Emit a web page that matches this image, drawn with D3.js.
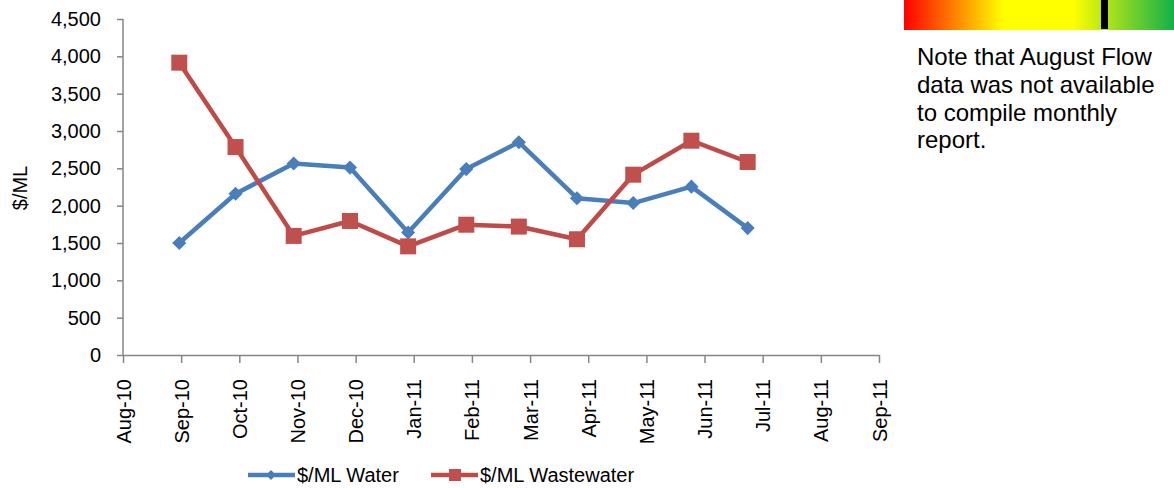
<!DOCTYPE html>
<html>
<head>
<meta charset="utf-8">
<script src="https://cdn.jsdelivr.net/npm/d3@7"></script>
<style>
  body { margin: 0; background: #fff; }
  svg { display: block; font-family: "Liberation Sans", Arial, sans-serif; }
  .axis path, .axis line { stroke: #868686; stroke-width: 1.5; }
  .axis text { fill: #000; font-size: 20px; }
</style>
</head>
<body>
<svg id="chart" width="1174" height="488"></svg>
<script>
// month-end reporting dates
const reportDates = ["2010-08-31", "2010-09-30", "2010-10-31", "2010-11-30", "2010-12-31",
  "2011-01-31", "2011-02-28", "2011-03-31", "2011-04-30", "2011-05-31", "2011-06-30"];

const waterValues = [1500, 2160, 2565, 2510, 1640, 2490, 2850, 2100, 2035, 2255, 1700];
const wastewaterValues = [3915, 2785, 1595, 1795, 1455, 1745, 1720, 1550, 2415, 2870, 2585];

const yTickValues = [0, 500, 1000, 1500, 2000, 2500, 3000, 3500, 4000, 4500];
const xTickLabels = ["Aug-10", "Sep-10", "Oct-10", "Nov-10", "Dec-10", "Jan-11", "Feb-11",
  "Mar-11", "Apr-11", "May-11", "Jun-11", "Jul-11", "Aug-11", "Sep-11"];

const noteLines = ["Note that August Flow", "data was not available", "to compile monthly", "report."];

const svg = d3.select("#chart");
const width = +svg.attr("width");
const height = +svg.attr("height");

const margin = { top: 19, right: 295, bottom: 133, left: 123 };
const innerWidth = width - margin.left - margin.right;
const innerHeight = height - margin.top - margin.bottom;

const g = svg.append("g")
  .attr("transform", `translate(${margin.left},${margin.top})`);

const parseDate = d3.timeParse("%Y-%m-%d");
const dates = reportDates.map(parseDate);

// excel date axis: major unit of 31 days starting 1 Aug 2010
const axisStart = parseDate("2010-08-01");
const tickDates = xTickLabels.map((d, i) => d3.timeDay.offset(axisStart, 31 * i));

const x = d3.scaleTime()
  .domain([axisStart, tickDates[tickDates.length - 1]])
  .range([0, innerWidth]);

const y = d3.scaleLinear()
  .domain([0, 4500])
  .range([innerHeight, 0]);

// y axis
const yAxis = g.append("g")
  .attr("class", "axis")
  .call(d3.axisLeft(y)
    .tickValues(yTickValues)
    .tickSize(6)
    .tickPadding(16)
    .tickFormat(d3.format(",")));

// x axis
const xAxis = g.append("g")
  .attr("class", "axis")
  .attr("transform", `translate(0,${innerHeight})`)
  .call(d3.axisBottom(x)
    .tickValues(tickDates)
    .tickSize(8)
    .tickSizeOuter(0)
    .tickFormat((d, i) => xTickLabels[i]));

yAxis.select(".domain").attr("d", `M0,0V${innerHeight}`);

xAxis.selectAll("text")
  .attr("transform", "rotate(-90)")
  .attr("text-anchor", "end")
  .attr("x", -24)
  .attr("y", 0)
  .attr("dy", "0.35em");

svg.append("text")
  .attr("transform", `translate(27,188) rotate(-90)`)
  .attr("text-anchor", "middle")
  .style("font-size", "20px")
  .text("$/ML");

const series = [
  { name: "$/ML Water", values: waterValues, color: "#4a7ebb", marker: "diamond" },
  { name: "$/ML Wastewater", values: wastewaterValues, color: "#be4b48", marker: "square" }
];

const line = d3.line()
  .x((d, i) => x(dates[i]))
  .y(d => y(d));

series.forEach(s => {
  g.append("path")
    .datum(s.values)
    .attr("fill", "none")
    .attr("stroke", s.color)
    .attr("stroke-width", 4.5)
    .attr("stroke-linejoin", "round")
    .attr("d", line);

  if (s.marker === "diamond") {
    g.selectAll(".dot-water")
      .data(s.values)
      .enter()
      .append("rect")
      .attr("class", "dot-water")
      .attr("x", -5)
      .attr("y", -5)
      .attr("width", 10)
      .attr("height", 10)
      .attr("fill", s.color)
      .attr("transform", (d, i) => `translate(${x(dates[i])},${y(d)}) rotate(45)`);
  } else {
    g.selectAll(".dot-waste")
      .data(s.values)
      .enter()
      .append("rect")
      .attr("class", "dot-waste")
      .attr("x", (d, i) => x(dates[i]) - 8)
      .attr("y", d => y(d) - 8)
      .attr("width", 16)
      .attr("height", 16)
      .attr("fill", "#c0504d");
  }
});

// legend
const legend = svg.append("g");
const legendItems = [
  { s: series[0], x: 248, textX: 297 },
  { s: series[1], x: 431, textX: 480 }
];

legendItems.forEach(item => {
  legend.append("line")
    .attr("x1", item.x)
    .attr("x2", item.x + 47)
    .attr("y1", 475)
    .attr("y2", 475)
    .attr("stroke", item.s.color)
    .attr("stroke-width", 4.5);

  if (item.s.marker === "diamond") {
    legend.append("rect")
      .attr("x", -3.5).attr("y", -3.5)
      .attr("width", 7).attr("height", 7)
      .attr("fill", item.s.color)
      .attr("transform", `translate(${item.x + 23},475) rotate(45)`);
  } else {
    legend.append("rect")
      .attr("x", item.x + 18).attr("y", 469)
      .attr("width", 12).attr("height", 12)
      .attr("fill", "#c0504d");
  }

  legend.append("text")
    .attr("x", item.textX)
    .attr("y", 475)
    .attr("dy", "0.35em")
    .style("font-size", "20px")
    .text(item.s.name);
});

// traffic light gradient bar
const grad = svg.append("defs").append("linearGradient")
  .attr("id", "rag");
[[0, "#ff0000"], [0.367, "#ffff00"], [0.626, "#ffff00"], [1, "#12b04a"]].forEach(st => {
  grad.append("stop").attr("offset", st[0]).attr("stop-color", st[1]);
});

svg.append("rect")
  .attr("x", 904)
  .attr("y", 0)
  .attr("width", 270)
  .attr("height", 30)
  .attr("fill", "url(#rag)");

svg.append("rect")
  .attr("x", 1101)
  .attr("y", 0)
  .attr("width", 7)
  .attr("height", 29)
  .attr("fill", "#000");

svg.append("text")
  .attr("x", 917)
  .attr("y", 65)
  .style("font-size", "24px")
  .selectAll("tspan")
  .data(noteLines)
  .enter()
  .append("tspan")
  .attr("x", 917)
  .attr("dy", (d, i) => i === 0 ? 0 : 27.8)
  .text(d => d);
</script>
</body>
</html>
